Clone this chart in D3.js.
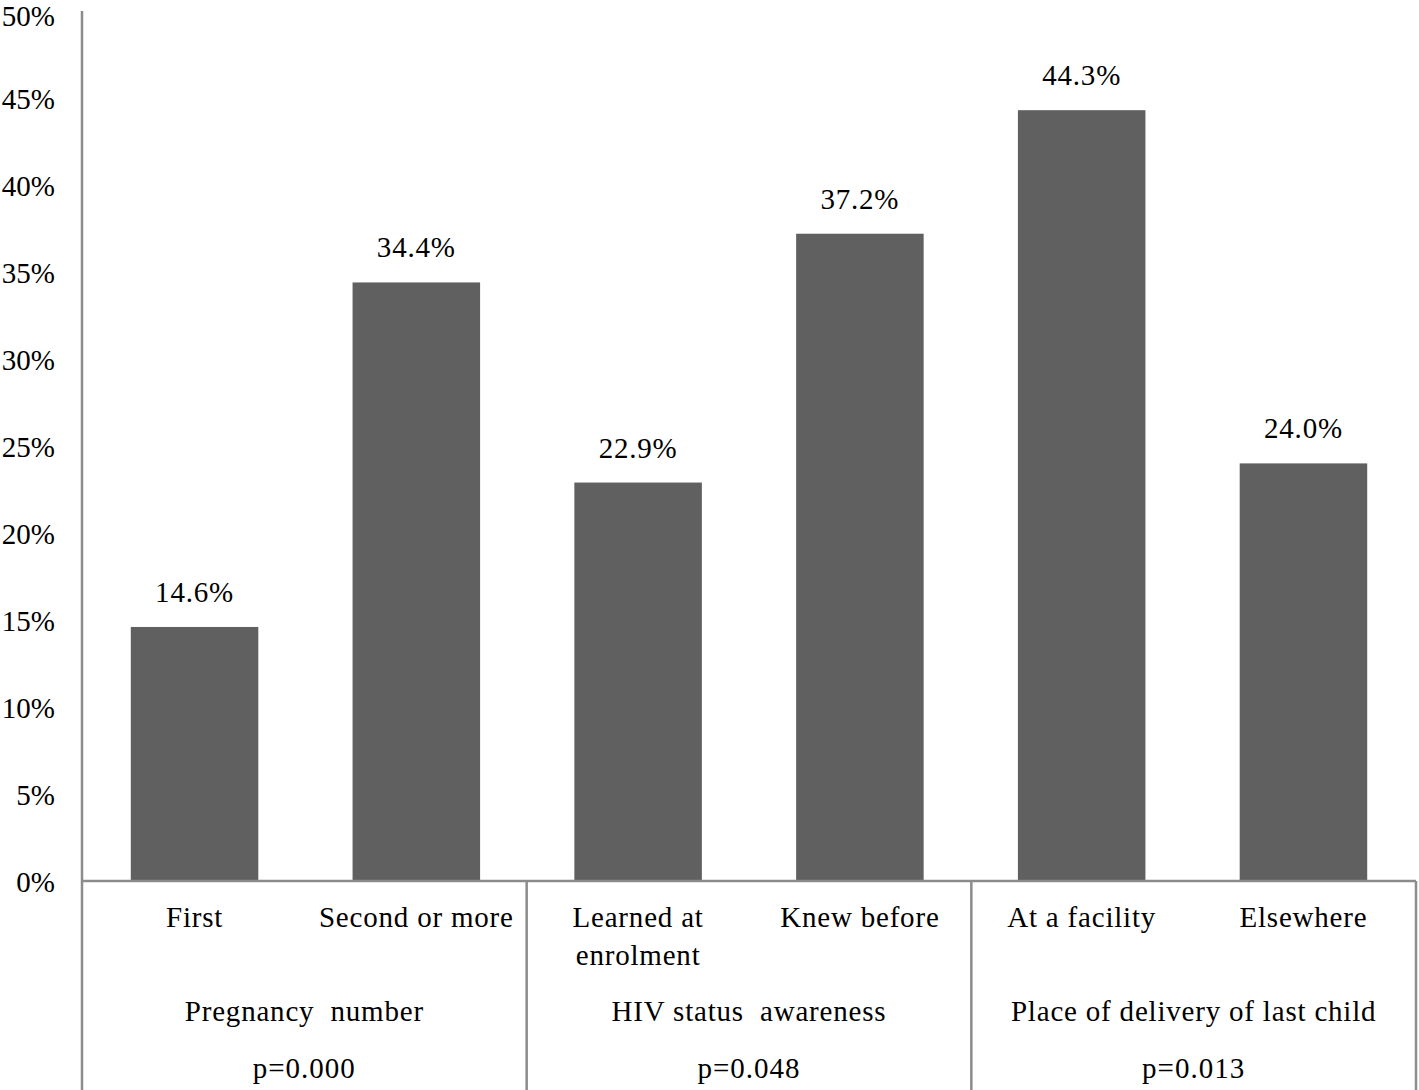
<!DOCTYPE html>
<html><head><meta charset="utf-8">
<script src="https://cdn.jsdelivr.net/npm/d3@7"></script>
<style>body{margin:0;background:#fff}svg{display:block}</style>
</head><body>
<script>
const categories = ["First","Second or more","Learned at|enrolment","Knew before","At a facility","Elsewhere"];
const values = [14.6, 34.4, 22.9, 37.2, 44.3, 24.0];
const valueLabels = ["14.6%","34.4%","22.9%","37.2%","44.3%","24.0%"];
const groups = ["Pregnancy  number","HIV status  awareness","Place of delivery of last child"];
const pValues = ["p=0.000","p=0.048","p=0.013"];
const yTicks = [0,5,10,15,20,25,30,35,40,45,50];

(function(){
const W = 1419, H = 1090;
const svg = d3.select("body").append("svg").attr("width", W).attr("height", H);
const mLeft = 82, mRight = 1416, mTop = 11, base = 881;
const font = "'Liberation Serif','Times New Roman',serif";
const fs = 29;
const axisColor = "#8c8c8c";

const x = d3.scaleBand().domain(d3.range(categories.length)).range([mLeft, mRight]).paddingInner(0.425).paddingOuter(0.22);
const xg = d3.scaleBand().domain(d3.range(groups.length)).range([mLeft, mRight]);
const y = d3.scaleLinear().domain([0, 50]).range([base, mTop]);

svg.selectAll("rect.bar").data(values).enter().append("rect")
  .attr("x", (d,i) => x(i)).attr("width", x.bandwidth())
  .attr("y", d => y(d)).attr("height", d => y(0) - y(d))
  .attr("fill", "#606060");

svg.selectAll("text.val").data(values).enter().append("text")
  .attr("x", (d,i) => x(i) + x.bandwidth()/2).attr("y", d => y(d) - 25)
  .attr("text-anchor", "middle").attr("font-family", font).attr("font-size", fs)
  .attr("letter-spacing", 0.8).attr("fill", "#000").text((d,i) => valueLabels[i]);

const yAxis = d3.axisLeft(y).tickValues(yTicks).tickSize(0).tickPadding(27).tickFormat(d => d + "%");
const ga = svg.append("g").attr("transform", `translate(${mLeft},0)`).call(yAxis);
ga.select(".domain").remove();
ga.selectAll("text").attr("font-family", font).attr("font-size", fs).attr("fill", "#000")
  .attr("dy", d => d === 50 ? "0.5em" : "0.35em");
svg.append("line").attr("x1", mLeft).attr("x2", mLeft).attr("y1", mTop).attr("y2", H)
  .attr("stroke", axisColor).attr("stroke-width", 2.5);

svg.append("line").attr("x1", mLeft).attr("x2", mRight).attr("y1", base).attr("y2", base)
  .attr("stroke", axisColor).attr("stroke-width", 2.5);

svg.selectAll("line.sep").data(d3.range(1, groups.length + 1)).enter().append("line")
  .attr("x1", d => d === groups.length ? mRight : xg(d)).attr("x2", d => d === groups.length ? mRight : xg(d))
  .attr("y1", base).attr("y2", H).attr("stroke", axisColor).attr("stroke-width", 2.5);

categories.forEach((c, i) => {
  const lines = c.split("|");
  const cx = x(i) + x.bandwidth()/2;
  const t = svg.append("text").attr("x", cx).attr("y", 927)
    .attr("text-anchor", "middle").attr("font-family", font).attr("font-size", fs)
    .attr("letter-spacing", 0.8).attr("fill", "#000");
  lines.forEach((l, j) => t.append("tspan").attr("x", cx).attr("dy", j === 0 ? 0 : 38).style("white-space","pre").text(l));
});

svg.selectAll("text.grp").data(groups).enter().append("text")
  .attr("x", (d,i) => xg(i) + xg.bandwidth()/2).attr("y", 1021)
  .attr("text-anchor", "middle").attr("font-family", font).attr("font-size", fs)
  .attr("letter-spacing", 0.8).style("white-space","pre").attr("fill", "#000").text(d => d);

svg.selectAll("text.p").data(pValues).enter().append("text")
  .attr("x", (d,i) => xg(i) + xg.bandwidth()/2).attr("y", 1078)
  .attr("text-anchor", "middle").attr("font-family", font).attr("font-size", fs)
  .attr("letter-spacing", 1).attr("fill", "#000").text(d => d);
})();
</script>
</body></html>
